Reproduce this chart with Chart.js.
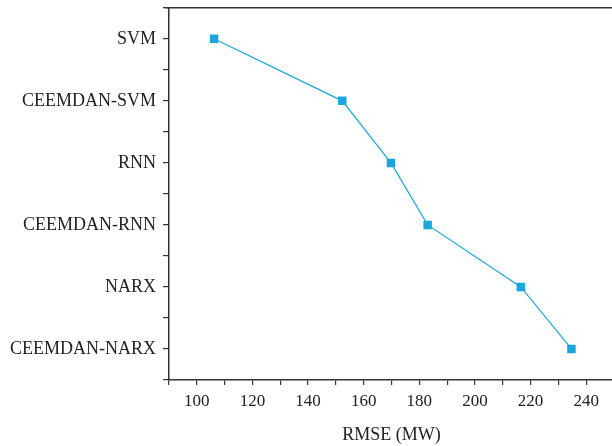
<!DOCTYPE html>
<html>
<head>
<meta charset="utf-8">
<script src="https://cdn.jsdelivr.net/npm/chart.js@4"></script>
<style>
  html, body { margin: 0; padding: 0; background: #fff; overflow: hidden; }
  #wrap { width: 630px; height: 456px; margin-top: -10px; }
</style>
</head>
<body>
<div id="wrap"><canvas id="grafico"></canvas></div>
<script>
const modelos = ['SVM', 'CEEMDAN-SVM', 'RNN', 'CEEMDAN-RNN', 'NARX', 'CEEMDAN-NARX'];
const rmse = [106.2, 152.3, 169.8, 183.0, 216.5, 234.7];

const corLinha = '#1ba5df';
const corEixo = '#333333';
const fonte = 'Liberation Serif';

const pontos = rmse.map((v, i) => ({ x: v, y: i }));

// linha superior do quadro
const bordaTopo = {
  id: 'bordaTopo',
  afterDraw(chart) {
    const { ctx, chartArea } = chart;
    ctx.save();
    ctx.strokeStyle = corEixo;
    ctx.lineWidth = 1.5;
    ctx.beginPath();
    ctx.moveTo(chartArea.left - 4, chartArea.top);
    ctx.lineTo(chartArea.right, chartArea.top);
    ctx.stroke();
    ctx.restore();
  }
};

new Chart(document.getElementById('grafico'), {
  type: 'line',
  data: {
    datasets: [{
      data: pontos,
      borderColor: corLinha,
      backgroundColor: corLinha,
      borderWidth: 1.2,
      pointStyle: 'rect',
      pointRadius: 6,
      pointHoverRadius: 6,
      pointBorderWidth: 0,
      tension: 0
    }]
  },
  options: {
    responsive: true,
    maintainAspectRatio: false,
    animation: false,
    layout: { padding: { top: 7, right: 16, left: 0, bottom: 0 } },
    plugins: { legend: { display: false }, tooltip: { enabled: false } },
    scales: {
      x: {
        type: 'linear',
        min: 90,
        max: 250,
        grid: { display: true, drawOnChartArea: false, drawTicks: true, tickLength: 5, color: corEixo, lineWidth: 1.2 },
        border: { display: true, color: corEixo, width: 1.5 },
        ticks: {
          stepSize: 10,
          autoSkip: false,
          maxRotation: 0,
          padding: 6,
          color: '#222',
          font: { family: fonte, size: 17 },
          callback: v => (v % 20 === 0 ? v : '')
        },
        title: {
          display: true,
          text: 'RMSE (MW)',
          color: '#222',
          font: { family: fonte, size: 18 },
          padding: { top: 10, bottom: 0 }
        },
        afterFit: s => { s.height = 66; }
      },
      y: {
        type: 'linear',
        reverse: true,
        min: -0.5,
        max: 5.5,
        grid: { display: true, drawOnChartArea: false, drawTicks: true, tickLength: 6, color: corEixo, lineWidth: 1.2 },
        border: { display: true, color: corEixo, width: 1.5 },
        ticks: {
          stepSize: 0.5,
          autoSkip: false,
          padding: 7,
          color: '#222',
          font: { family: fonte, size: 18 },
          callback: v => (Number.isInteger(v) && modelos[v] ? modelos[v] : '')
        },
        afterFit: s => { s.width = 169; }
      }
    }
  },
  plugins: [bordaTopo]
});
</script>
</body>
</html>
